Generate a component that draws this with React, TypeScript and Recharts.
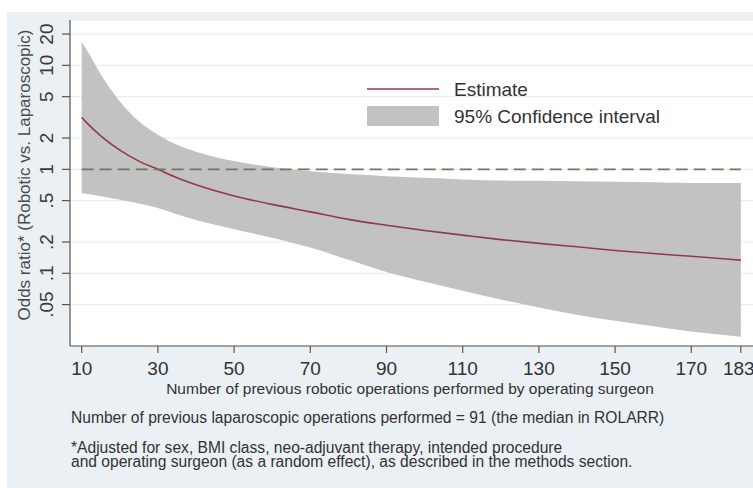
import { ComposedChart, Area, Line, XAxis, YAxis, CartesianGrid, ReferenceLine } from 'recharts'

const X_VALUES = [10, 12, 15, 20, 25, 30, 35, 40, 50, 60, 70, 80, 90, 100, 110, 120, 130, 140, 150, 160, 170, 183]
const ESTIMATE = [3.15, 2.65, 2.1, 1.53, 1.2, 1.0, 0.83, 0.71, 0.555, 0.46, 0.39, 0.33, 0.29, 0.258, 0.233, 0.211, 0.194, 0.18, 0.166, 0.155, 0.146, 0.134]
const CI_LOWER = [0.59, 0.575, 0.55, 0.51, 0.47, 0.425, 0.37, 0.325, 0.265, 0.22, 0.177, 0.135, 0.103, 0.083, 0.068, 0.056, 0.047, 0.04, 0.035, 0.031, 0.0275, 0.0245]
const CI_UPPER = [16.8, 12.8, 8.2, 4.5, 2.9, 2.15, 1.72, 1.48, 1.2, 1.05, 0.96, 0.9, 0.86, 0.83, 0.8, 0.78, 0.775, 0.77, 0.76, 0.75, 0.74, 0.74]

const X_TICKS = [10, 30, 50, 70, 90, 110, 130, 150, 170, 183]
const Y_TICKS = [0.05, 0.1, 0.2, 0.5, 1, 2, 5, 10, 20]
const Y_TICK_LABELS = ['.05', '.1', '.2', '.5', '1', '2', '5', '10', '20']
const LEGEND_ITEMS = ['Estimate', '95% Confidence interval']
const NO_EFFECT = 1

const FONT = '"Liberation Sans", Arial, sans-serif'
const BAND = '#c2c2c2'
const EST = '#943849'

const data = X_VALUES.map((x, i) => ({ x, est: ESTIMATE[i], ci: [CI_LOWER[i], CI_UPPER[i]] }))

function YTick({ x, y, payload }: any) {
  const idx = Y_TICKS.indexOf(payload.value)
  return (
    <text x={x} y={y} transform={`rotate(-90 ${x} ${y})`} textAnchor="middle" fontSize={19} fill="#3a3a3a" fontFamily={FONT}>
      {Y_TICK_LABELS[idx]}
    </text>
  )
}

export default function App() {
  return (
    <div style={{ position: 'absolute', left: 0, top: 0, width: 753, height: 488, background: '#fff', overflow: 'hidden', fontFamily: FONT }}>
      <div style={{ position: 'absolute', left: 7, top: 12, right: 0, bottom: 0, background: '#eaf0f3' }} />
      <div style={{ position: 'absolute', left: 0, top: 0 }}>
        <ComposedChart width={753} height={488} data={data} margin={{ top: 20, right: 0, bottom: 0, left: 0 }}>
          <CartesianGrid vertical={false} fill="#fff" stroke="#e6ecef" strokeWidth={1} />
          <XAxis
            dataKey="x"
            type="number"
            domain={[6.93, 186.2]}
            ticks={X_TICKS}
            allowDataOverflow
            height={142}
            tickSize={7}
            tickMargin={9}
            axisLine={{ stroke: '#555', strokeWidth: 1.2 }}
            tickLine={{ stroke: '#555', strokeWidth: 1.2 }}
            tick={{ fontSize: 19, fill: '#333', fontFamily: FONT }}
          />
          <YAxis
            type="number"
            scale="log"
            domain={[0.02, 27.3]}
            ticks={Y_TICKS}
            allowDataOverflow
            width={70}
            tickSize={8}
            tickMargin={9}
            axisLine={{ stroke: '#555', strokeWidth: 1.2 }}
            tickLine={{ stroke: '#555', strokeWidth: 1.2 }}
            tick={<YTick />}
          />
          <Area type="monotone" dataKey="ci" fill={BAND} fillOpacity={1} stroke="none" isAnimationActive={false} />
          <Line type="monotone" dataKey="est" stroke={EST} strokeWidth={1.6} dot={false} isAnimationActive={false} />
          <ReferenceLine
            segment={[{ x: X_VALUES[0], y: NO_EFFECT }, { x: X_VALUES[X_VALUES.length - 1], y: NO_EFFECT }]}
            stroke="#6e7a5c"
            strokeWidth={1.6}
            strokeDasharray="12 6"
          />
        </ComposedChart>
      </div>
      <svg width={753} height={488} style={{ position: 'absolute', left: 0, top: 0, pointerEvents: 'none' }}>
        {/* legend, drawn inside the plot like Stata does */}
        <line x1={367} x2={439} y1={89} y2={89} stroke={EST} strokeWidth={1.6} />
        <text x={454} y={96} fontSize={19} fill="#333" fontFamily={FONT}>{LEGEND_ITEMS[0]}</text>
        <rect x={367} y={106} width={72} height={20} fill={BAND} />
        <text x={454} y={123} fontSize={19} fill="#333" fontFamily={FONT}>{LEGEND_ITEMS[1]}</text>

        <text x={30} y={175} transform="rotate(-90 30 175)" textAnchor="middle" fontSize={17} fill="#4a4a4a" fontFamily={FONT}>
          Odds ratio* (Robotic vs. Laparoscopic)
        </text>
        <text x={410} y={394} textAnchor="middle" fontSize={15.5} fill="#333" fontFamily={FONT}>
          Number of previous robotic operations performed by operating surgeon
        </text>
        <text x={71} y={423} fontSize={15.6} fill="#333" fontFamily={FONT}>
          Number of previous laparoscopic operations performed = 91 (the median in ROLARR)
        </text>
        <text x={71} y={453} fontSize={15.6} fill="#333" fontFamily={FONT}>
          *Adjusted for sex, BMI class, neo-adjuvant therapy, intended procedure
        </text>
        <text x={71} y={467} fontSize={15.6} fill="#333" fontFamily={FONT}>
          and operating surgeon (as a random effect), as described in the methods section.
        </text>
      </svg>
    </div>
  )
}
